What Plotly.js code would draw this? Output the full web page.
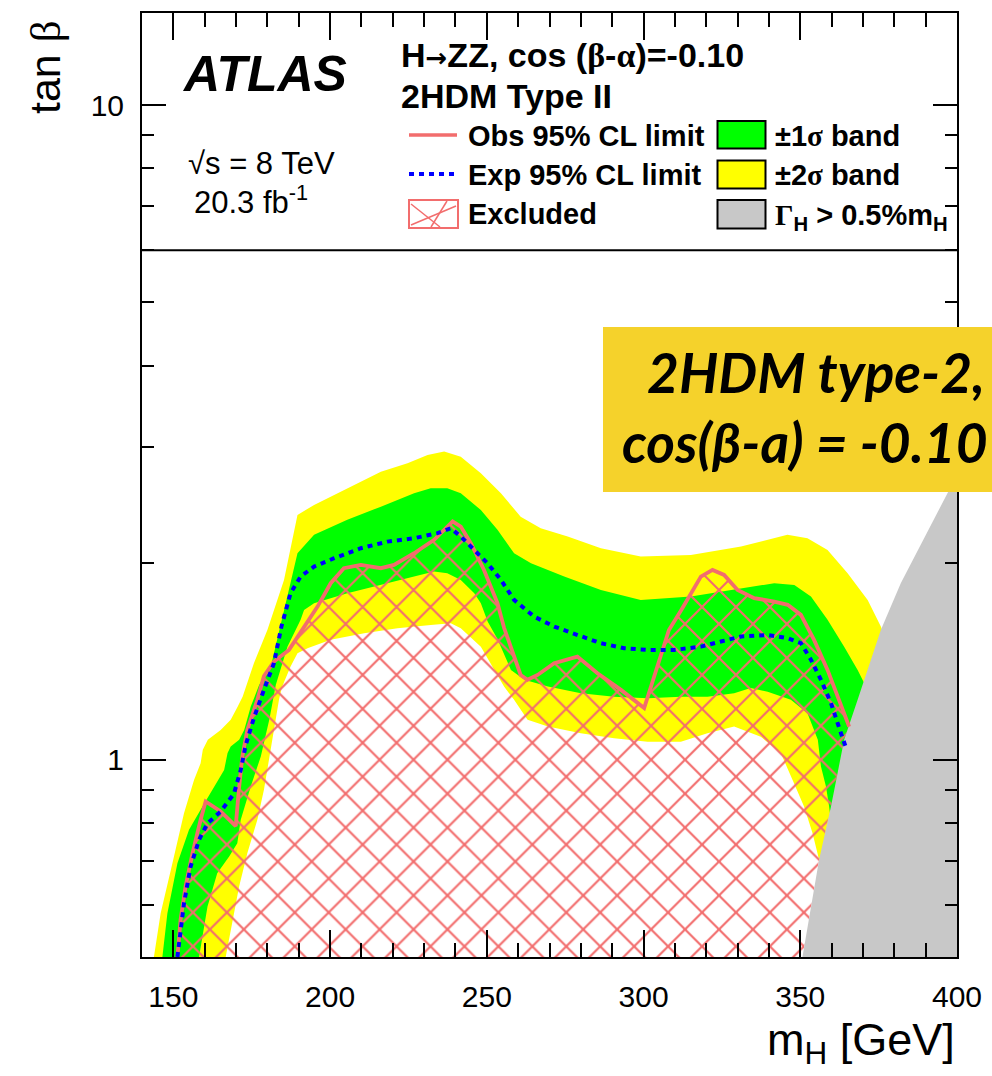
<!DOCTYPE html>
<html><head><meta charset="utf-8">
<script src="https://cdn.plot.ly/plotly-3.0.1.min.js"></script>
<style>html,body{margin:0;padding:0;background:#fff;}#chart{width:992px;height:1076px;}</style>
</head><body><div id="chart"></div>
<script>
// ---- data (m_H in GeV, tan beta) ----
const obsM = [151.3,152.3,153.9,156.1,158.7,160.3,165.1,169.9,170.9,172.0,173.6,176.8,178.9,182.1,186.9,191.7,196.0,200.2,204.4,209.8,216.2,220.4,226.8,233.2,237.4,239.1,241.7,244.9,249.1,253.4,255.5,258.7,260.8,263.0,266.2,271.5,278.9,285.3,292.8,300.2,304.5,308.1,311.9,318.3,322.0,325.7,330.0,335.3,341.7,346.0,350.2,354.4,358.7,361.9,365.6];
const obsT = [0.5,0.570,0.641,0.720,0.810,0.864,0.834,0.792,0.90,1.012,1.111,1.235,1.343,1.413,1.472,1.598,1.714,1.861,1.962,1.985,1.962,1.985,2.068,2.168,2.271,2.312,2.271,2.142,1.950,1.735,1.591,1.438,1.348,1.325,1.348,1.405,1.438,1.356,1.279,1.200,1.388,1.579,1.689,1.905,1.950,1.916,1.817,1.766,1.745,1.725,1.665,1.525,1.372,1.249,1.124];

const expM = [151.3,153.4,155.5,158.2,160.9,165.1,169.3,171.5,173.1,175.7,178.9,182.1,184.5,187.4,190.6,194.9,201.3,209.8,218.3,226.8,234.3,238.5,241.7,245.9,250.2,254.5,258.7,265.1,271.5,279.0,286.4,293.8,301.3,309.8,318.3,324.7,331.1,339.6,346.0,350.2,353.4,356.6,359.8,363.0,364.6];
const expT = [0.5,0.604,0.687,0.755,0.800,0.834,0.887,0.965,1.054,1.159,1.279,1.405,1.600,1.797,1.905,1.973,2.032,2.105,2.154,2.180,2.219,2.258,2.193,2.092,1.997,1.883,1.755,1.655,1.598,1.551,1.507,1.481,1.472,1.472,1.489,1.516,1.543,1.551,1.534,1.507,1.422,1.325,1.221,1.098,1.043];

const up2M = [143.8,145.95,149.7,153.4,156.6,158.7,159.4,161.0,165.1,168.3,170.5,172.1,175.7,180.0,185.3,187.4,189.6,194.9,205.5,216.2,224.7,231.1,236.4,241.7,248.1,254.5,260.8,267.2,275.8,286.4,299.1,315.1,331.1,345.9,352.3,358.7,365.1,371.5,375.7,380.5];
const up2T = [0.5,0.583,0.695,0.829,0.932,0.988,1.036,1.073,1.111,1.151,1.205,1.248,1.405,1.579,1.883,2.117,2.366,2.451,2.599,2.755,2.838,2.922,2.956,2.904,2.739,2.554,2.351,2.258,2.193,2.105,2.044,2.056,2.117,2.206,2.180,2.092,1.928,1.755,1.598,1.396];

const up1M = [146.5,148.1,151.3,155.0,159.3,163.0,166.2,167.3,168.3,171.0,172.6,174.7,177.4,181.1,186.4,189.6,194.9,205.5,216.2,226.8,232.1,237.4,241.7,248.1,253.4,258.7,264.1,274.7,286.4,299.1,315.1,331.1,341.7,348.1,353.4,358.7,364.0,368.3,371.5];
const up1T = [0.5,0.583,0.695,0.782,0.849,0.911,0.965,1.024,1.048,1.073,1.111,1.206,1.302,1.388,1.776,2.068,2.206,2.326,2.436,2.554,2.599,2.599,2.554,2.408,2.245,2.068,1.997,1.905,1.817,1.755,1.776,1.828,1.861,1.850,1.776,1.636,1.489,1.372,1.279];

const dn1M = [158.2,160.9,164.0,167.8,170.4,171.5,174.7,177.9,180.6,182.7,186.4,190.6,191.7,194.9,205.5,216.2,226.8,233.2,237.4,241.7,246.0,248.1,250.3,253.4,257.7,262.0,269.5,280.0,290.6,301.3,311.9,320.4,328.9,334.2,339.6,347.0,352.3,355.6,356.6,358.2,359.2,361.3,362.9];
const dn1T = [0.5,0.597,0.671,0.712,0.746,0.810,0.911,1.012,1.151,1.302,1.489,1.636,1.694,1.735,1.797,1.850,1.905,1.939,1.928,1.883,1.797,1.735,1.625,1.530,1.372,1.325,1.294,1.264,1.249,1.242,1.249,1.249,1.264,1.287,1.271,1.235,1.178,1.073,0.977,0.911,0.849,0.704,0.5];

const dn2M = [166.7,168.3,171.0,173.6,176.8,178.9,180.5,182.1,183.7,184.6,187.4,189.6,192.8,200.2,210.9,221.5,232.1,238.5,241.7,248.1,251.8,255.5,258.7,263.0,269.5,280.0,290.6,301.3,311.9,320.4,328.9,337.4,343.8,348.0,351.2,353.9,356.0,358.2];
const dn2T = [0.5,0.550,0.641,0.720,0.810,0.90,1.0,1.111,1.235,1.29,1.388,1.455,1.481,1.525,1.561,1.589,1.607,1.617,1.589,1.489,1.388,1.294,1.235,1.151,1.124,1.098,1.079,1.066,1.066,1.098,1.124,1.085,1.024,0.921,0.849,0.773,0.704,0.5];

// Gamma_H > 0.5% m_H boundary
const greyM = [350.7,353.4,356.0,359.8,364.0,368.3,375.7,382.1,397.0,400.0];
const greyT = [0.5,0.597,0.704,0.849,1.073,1.235,1.579,1.863,2.556,2.75];

const X_MIN = 140, X_MAX = 400, Y_MIN = 0.5, Y_MAX = 13.82, LEG_LINE = 6;
const xTicks = [150,200,250,300,350,400];
const yTicks = [1,10];
const yTickText = ['1','10'];
const yMinor = [0.6,0.7,0.8,0.9,2,3,4,5,6,7,8,9];

// ---- styling ----
const SANS = 'Liberation Sans, Arial, Helvetica, sans-serif';
const SERIF = 'Liberation Serif';
const RED = '#f26d6d', BLUE = '#0000ff', GREEN = '#00ff00', YELLOW = '#ffff00', GREY = '#c8c8c8';

const rev = a => a.slice().reverse();

// hatch region: below observed limit, closed along the grey boundary
const lastObs = obsT[obsT.length - 1];
const gIdx = greyT.map((t, i) => i).filter(i => greyT[i] < lastObs).reverse();
const hatchX = obsM.concat(gIdx.map(i => greyM[i]));
const hatchY = obsT.concat(gIdx.map(i => greyT[i]));

const traces = [
  {x: up2M.concat(rev(dn2M)), y: up2T.concat(rev(dn2T)), mode: 'lines', fill: 'toself',
   fillcolor: YELLOW, line: {width: 0, color: YELLOW}, hoverinfo: 'skip'},
  {x: up1M.concat(rev(dn1M)), y: up1T.concat(rev(dn1T)), mode: 'lines', fill: 'toself',
   fillcolor: GREEN, line: {width: 0, color: GREEN}, hoverinfo: 'skip'},
  {x: hatchX, y: hatchY, mode: 'lines', fill: 'toself', fillcolor: 'rgba(0,0,0,0)',
   fillpattern: {shape: 'x', fgcolor: RED, bgcolor: 'rgba(0,0,0,0)', size: 24, solidity: 0.17},
   line: {width: 0, color: 'rgba(0,0,0,0)'}, hoverinfo: 'skip'},
  {x: greyM.concat([X_MAX]), y: greyT.concat([Y_MIN]), mode: 'lines', fill: 'toself',
   fillcolor: GREY, line: {width: 0, color: GREY}, hoverinfo: 'skip'},
  {x: obsM, y: obsT, mode: 'lines', line: {color: RED, width: 3.8}},
  {x: expM, y: expT, mode: 'lines', line: {color: BLUE, width: 4, dash: '5px,5px'}}
];

// pixel -> paper helpers for decorations
const L = 142, R = 35, T = 13, B = 119, W = 992, H = 1076;
const PW = W - L - R, PH = H - T - B;
const fx = px => (px - L) / PW;
const fy = py => (H - B - py) / PH;

const txt = (text, px, py, size, opts) => Object.assign({
  text: text, xref: 'paper', yref: 'paper', x: fx(px), y: fy(py),
  xanchor: 'left', yanchor: 'middle', showarrow: false,
  font: {family: SANS, size: size, color: '#000'}
}, opts || {});
const g = s => '<span style="font-family:' + SERIF + '">' + s + '</span>';
const bold = size => ({family: SANS, size: size, color: '#000', weight: 'bold'});
const boxFont = {family: 'Lato, Open Sans, sans-serif', size: 55, color: '#000', weight: 'bold', style: 'italic'};

const annotations = [
  txt('ATLAS', 180, 74, 50, {font: {family: SANS, size: 50, color: '#000', weight: 'bold', style: 'italic'}}),
  txt('√s = 8 TeV', 186, 164, 31),
  txt('20.3 fb<sup>-1</sup>', 192, 200, 31),
  txt('H<span style="font-family:DejaVu Sans;font-size:26px">→</span>ZZ, cos (' + g('β') + '-' + g('α') + ')=-0.10', 399, 55, 34, {font: bold(34)}),
  txt('2HDM Type II', 399, 96.5, 34, {font: bold(34)}),
  txt('Obs 95% CL limit', 466, 136.5, 29, {font: bold(29)}),
  txt('Exp 95% CL limit', 466, 175, 29, {font: bold(29)}),
  txt('Excluded', 466, 214, 29, {font: bold(29)}),
  txt('±1' + g('σ') + ' band', 773, 136.5, 29, {font: bold(29)}),
  txt('±2' + g('σ') + ' band', 773, 175, 29, {font: bold(29)}),
  txt(g('Γ') + '<sub>H</sub> > 0.5%m<sub>H</sub>', 773, 217, 29, {font: bold(29)}),
  txt('tan ' + g('β'), 45, 67, 43, {xanchor: 'center', textangle: -90}),
  txt('m<sub>H</sub> [GeV]', 957, 1042, 45, {xanchor: 'right'}),
  txt('2HDM type-2,', 645, 372, 55, {font: boxFont}),
  txt('cos(β-a) = -0.10', 620, 442, 55, {font: boxFont})
];

const rect = (x0, y0, x1, y1, fill, lc, lw) => ({type: 'rect', xref: 'paper', yref: 'paper',
  x0: fx(x0), x1: fx(x1), y0: fy(y0), y1: fy(y1), fillcolor: fill, line: {color: lc, width: lw}});
const seg = (x0, y0, x1, y1, c, w, dash) => ({type: 'line', xref: 'paper', yref: 'paper',
  x0: fx(x0), x1: fx(x1), y0: fy(y0), y1: fy(y1), line: {color: c, width: w, dash: dash || 'solid'}});

const shapes = [
  {type: 'line', xref: 'paper', yref: 'y', x0: 0, x1: 1, y0: LEG_LINE, y1: LEG_LINE,
   line: {color: '#000', width: 2}},
  seg(409, 135, 457, 135, RED, 3.5),
  seg(409, 174, 457, 174, BLUE, 4, '5px,5px'),
  rect(409, 200, 458, 228, 'rgba(0,0,0,0)', RED, 2),
  seg(411, 204, 440, 227, RED, 1.5),
  seg(447, 201, 431, 227, RED, 1.5),
  seg(456, 206, 411, 225, RED, 1.5),
  rect(717.5, 121, 765.5, 148.5, GREEN, '#000', 2),
  rect(717.5, 160.5, 765.5, 188.5, YELLOW, '#000', 2),
  rect(717.5, 200, 765.5, 228.5, GREY, '#000', 2),
  rect(603, 327, 1010, 492, '#f5d22b', 'rgba(0,0,0,0)', 0)
];

const axisCommon = {
  ticks: 'inside', tickcolor: '#000', tickwidth: 2, showline: true, linecolor: '#000', linewidth: 2,
  mirror: 'allticks', showgrid: false, zeroline: false,
  tickfont: {family: SANS, size: 30, color: '#000'}
};

const layout = {
  width: W, height: H, margin: {l: L, r: R, t: T, b: B},
  paper_bgcolor: '#fff', plot_bgcolor: '#fff', showlegend: false,
  xaxis: Object.assign({}, axisCommon, {
    range: [X_MIN, X_MAX], tickmode: 'array', tickvals: xTicks, ticklen: 27, ticklabelstandoff: 12,
    minor: {dtick: 10, tick0: 0, ticks: 'inside', ticklen: 14, tickwidth: 2, tickcolor: '#000', showgrid: false}
  }),
  yaxis: Object.assign({}, axisCommon, {
    type: 'log', range: [Math.log10(Y_MIN), Math.log10(Y_MAX)], tickmode: 'array',
    tickvals: yTicks, ticktext: yTickText, ticklen: 24, ticklabelstandoff: 10,
    minor: {tickmode: 'array', tickvals: yMinor, ticks: 'inside', ticklen: 12, tickwidth: 2, tickcolor: '#000', showgrid: false}
  }),
  annotations: annotations, shapes: shapes
};

Plotly.newPlot('chart', traces, layout, {displayModeBar: false, staticPlot: true});
</script>
</body></html>
